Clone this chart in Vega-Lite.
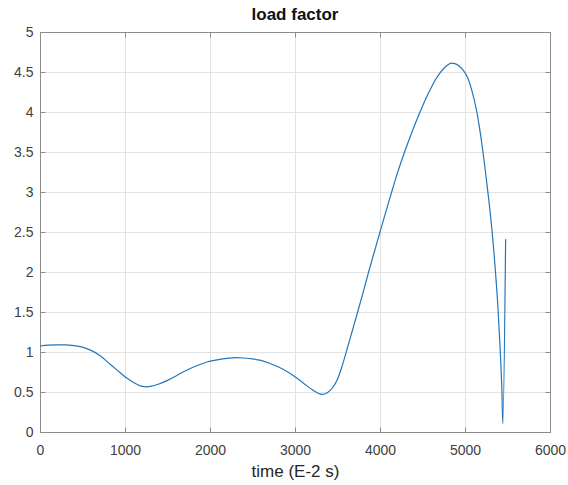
{
  "$schema": "https://vega.github.io/schema/vega-lite/v6.json",
  "width": 510,
  "height": 400,
  "autosize": "none",
  "padding": {"left": 40, "top": 32, "right": 18, "bottom": 53},
  "background": "white",
  "config": {
    "font": "Liberation Sans",
    "view": {"stroke": "#8c8c8c", "strokeWidth": 1},
    "axis": {
      "labelFont": "Liberation Sans",
      "titleFont": "Liberation Sans",
      "labelFontSize": 14,
      "titleFontSize": 17,
      "titleFontWeight": "normal",
      "labelColor": "#404040",
      "titleColor": "#262626",
      "domainColor": "#8c8c8c",
      "tickColor": "#8c8c8c",
      "gridColor": "#e3e3e3",
      "gridOpacity": 1
    }
  },
  "title": {
    "text": "load factor",
    "font": "Liberation Sans",
    "fontSize": 17,
    "fontWeight": "bold",
    "color": "#111111",
    "anchor": "middle",
    "offset": 1
  },
  "data": {
    "values": [
      {"t": 0, "n": 1.075}, {"t": 100, "n": 1.085}, {"t": 200, "n": 1.09}, {"t": 300, "n": 1.09},
      {"t": 400, "n": 1.08}, {"t": 500, "n": 1.06}, {"t": 600, "n": 1.02}, {"t": 700, "n": 0.96},
      {"t": 800, "n": 0.87}, {"t": 900, "n": 0.78}, {"t": 1000, "n": 0.69}, {"t": 1100, "n": 0.62},
      {"t": 1200, "n": 0.57}, {"t": 1250, "n": 0.565}, {"t": 1300, "n": 0.57}, {"t": 1400, "n": 0.6},
      {"t": 1500, "n": 0.645}, {"t": 1600, "n": 0.7}, {"t": 1700, "n": 0.76}, {"t": 1800, "n": 0.81},
      {"t": 1900, "n": 0.85}, {"t": 2000, "n": 0.885}, {"t": 2100, "n": 0.905}, {"t": 2200, "n": 0.92},
      {"t": 2300, "n": 0.93}, {"t": 2400, "n": 0.925}, {"t": 2500, "n": 0.915}, {"t": 2600, "n": 0.895},
      {"t": 2700, "n": 0.86}, {"t": 2800, "n": 0.815}, {"t": 2900, "n": 0.76}, {"t": 3000, "n": 0.69},
      {"t": 3100, "n": 0.61}, {"t": 3200, "n": 0.53}, {"t": 3270, "n": 0.485}, {"t": 3320, "n": 0.47},
      {"t": 3380, "n": 0.49}, {"t": 3440, "n": 0.55}, {"t": 3500, "n": 0.66}, {"t": 3550, "n": 0.81},
      {"t": 3600, "n": 0.99}, {"t": 3670, "n": 1.25}, {"t": 3737, "n": 1.5}, {"t": 3800, "n": 1.74},
      {"t": 3866, "n": 2.0}, {"t": 3933, "n": 2.25}, {"t": 4000, "n": 2.5}, {"t": 4065, "n": 2.74},
      {"t": 4129, "n": 2.97}, {"t": 4200, "n": 3.22}, {"t": 4286, "n": 3.49}, {"t": 4380, "n": 3.76},
      {"t": 4471, "n": 4.0}, {"t": 4540, "n": 4.17}, {"t": 4600, "n": 4.3}, {"t": 4650, "n": 4.4},
      {"t": 4700, "n": 4.48}, {"t": 4756, "n": 4.55}, {"t": 4800, "n": 4.59}, {"t": 4840, "n": 4.61},
      {"t": 4880, "n": 4.605}, {"t": 4930, "n": 4.575}, {"t": 4980, "n": 4.52}, {"t": 5030, "n": 4.43},
      {"t": 5080, "n": 4.27}, {"t": 5130, "n": 4.05}, {"t": 5168, "n": 3.82}, {"t": 5205, "n": 3.55},
      {"t": 5260, "n": 3.08}, {"t": 5315, "n": 2.55}, {"t": 5355, "n": 2.05}, {"t": 5388, "n": 1.55},
      {"t": 5413, "n": 1.05}, {"t": 5433, "n": 0.55}, {"t": 5445, "n": 0.105}, {"t": 5478, "n": 2.41}
    ]
  },
  "layer": [
    {
      "mark": {"type": "line", "color": "#2276bb", "strokeWidth": 1.2, "interpolate": "monotone"},
      "encoding": {
        "x": {
          "field": "t", "type": "quantitative",
          "scale": {"domain": [0, 6000], "nice": false, "zero": false},
          "axis": {"title": "time (E-2 s)", "format": "d", "values": [0, 1000, 2000, 3000, 4000, 5000, 6000], "tickSize": -5, "labelPadding": 16, "titlePadding": 6, "labelFlush": false}
        },
        "y": {
          "field": "n", "type": "quantitative",
          "scale": {"domain": [0, 5], "nice": false, "zero": false},
          "axis": {"title": null, "format": "~g", "values": [0, 0.5, 1, 1.5, 2, 2.5, 3, 3.5, 4, 4.5, 5], "tickSize": -5, "labelPadding": 12, "labelFlush": false}
        }
      }
    },
    {
      "mark": {"type": "line", "opacity": 0},
      "encoding": {
        "x": {
          "field": "t", "type": "quantitative",
          "axis": {"orient": "top", "title": null, "labels": false, "grid": false, "values": [0, 1000, 2000, 3000, 4000, 5000, 6000], "tickSize": -5}
        },
        "y": {
          "field": "n", "type": "quantitative",
          "axis": {"orient": "right", "title": null, "labels": false, "grid": false, "values": [0, 0.5, 1, 1.5, 2, 2.5, 3, 3.5, 4, 4.5, 5], "tickSize": -5}
        }
      }
    }
  ],
  "resolve": {"axis": {"x": "independent", "y": "independent"}}
}
